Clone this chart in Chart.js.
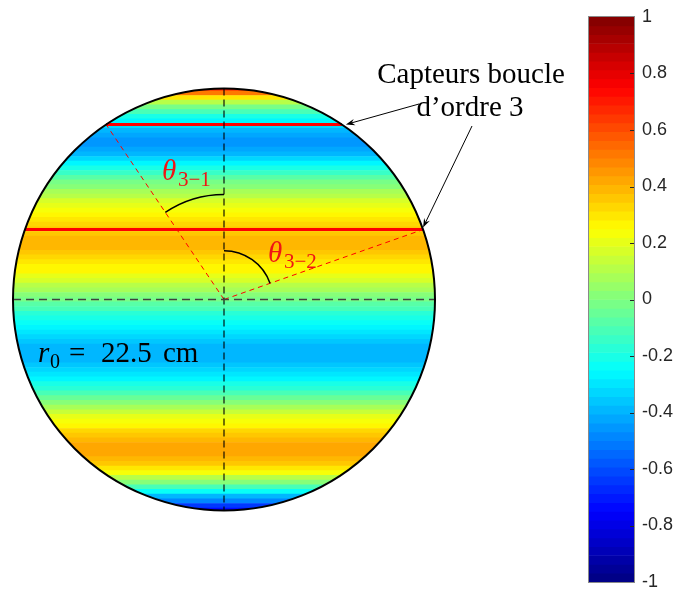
<!DOCTYPE html>
<html>
<head>
<meta charset="utf-8">
<script src="https://cdn.jsdelivr.net/npm/chart.js@4.4.0/dist/chart.umd.min.js"></script>
<style>
  html, body { margin: 0; padding: 0; background: #fff; }
  #wrap { width: 682px; height: 590px; }
</style>
</head>
<body>
<div id="wrap"><canvas id="chart" width="682" height="590"></canvas></div>
<script>
// field profile across the disc, read from top to bottom (height in cm)
const rowY = [
  22.5, 22, 21.5, 21, 20.5, 20, 19.5, 19, 18.5, 18, 17.5, 17, 16.5, 16, 15.5, 15,
  14.5, 14, 13.5, 13, 12.5, 12, 11.5, 11, 10.5, 10, 9.5, 9, 8.5, 8, 7.5, 7,
  6.5, 6, 5.5, 5, 4.5, 4, 3.5, 3, 2.5, 2, 1.5, 1, 0.5, 0,
  -0.5, -1, -1.5, -2, -2.5, -3, -3.5, -4, -4.5, -5, -5.5, -6, -6.5, -7, -7.5, -8,
  -8.5, -9, -9.5, -10, -10.5, -11, -11.5, -12, -12.5, -13, -13.5, -14, -14.5, -15,
  -15.5, -16, -16.5, -17, -17.5, -18, -18.5, -19, -19.5, -20, -20.5, -21, -21.5, -22, -22.5
];
const fieldValues = [
  0.7, 0.5, 0.3, 0.12, -0.02, -0.12, -0.2, -0.27, -0.33, -0.38, -0.42, -0.44, -0.45, -0.43, -0.39, -0.33,
  -0.27, -0.21, -0.15, -0.09, -0.03, 0.03, 0.08, 0.12, 0.16, 0.2, 0.23, 0.26, 0.29, 0.32, 0.35, 0.37,
  0.39, 0.39, 0.38, 0.36, 0.34, 0.31, 0.28, 0.25, 0.21, 0.17, 0.12, 0.08, 0.03, -0.02,
  -0.07, -0.12, -0.16, -0.2, -0.24, -0.28, -0.31, -0.34, -0.36, -0.38, -0.39, -0.39, -0.38, -0.36, -0.33, -0.3,
  -0.26, -0.21, -0.16, -0.1, -0.04, 0.02, 0.08, 0.14, 0.19, 0.24, 0.28, 0.32, 0.36, 0.39,
  0.41, 0.42, 0.42, 0.4, 0.36, 0.3, 0.22, 0.12, 0.0, -0.12, -0.25, -0.38, -0.5, -0.63, -0.75
];
const radius = 22.5;              // r0 in cm
const sensorY = [18.66, 7.46];    // heights of the two order-3 loop sensors (cm)
const colorTicks = [-1, -0.8, -0.6, -0.4, -0.2, 0, 0.2, 0.4, 0.6, 0.8, 1];

// matlab style jet, 64 levels
const nLevels = 64;
function jetColor(v) {
  let i = Math.floor((v + 1) / 2 * nLevels);
  i = Math.max(0, Math.min(nLevels - 1, i));
  const t = (i + 0.5) / nLevels;
  const f = c => Math.round(255 * Math.max(0, Math.min(1, 1.5 - Math.abs(4 * t - c))));
  return 'rgb(' + f(3) + ',' + f(2) + ',' + f(1) + ')';
}
const cbLevels = Array.from({ length: nLevels }, (_, i) => -1 + (i + 0.5) * 2 / nLevels);

const half = sensorY.map(y => Math.sqrt(radius * radius - y * y));
const RED = '#ff0000';
const SERIF = '"Liberation Serif", "Times New Roman", serif';

function lineSet(pts, color, width, dash) {
  return {
    type: 'line', data: pts, borderColor: color, borderWidth: width, borderDash: dash || [],
    pointRadius: 0, fill: false, tension: 0, xAxisID: 'x', yAxisID: 'y', order: 1
  };
}

const discClip = {
  id: 'discClip',
  beforeDatasetDraw(chart, args) {
    if (args.index !== 0) return;
    const { x, y } = chart.scales;
    const cx = x.getPixelForValue(0), cy = y.getPixelForValue(0);
    const r = x.getPixelForValue(radius) - cx;
    const ctx = chart.ctx;
    ctx.save();
    ctx.beginPath();
    ctx.arc(cx, cy, r, 0, Math.PI * 2);
    ctx.clip();
  },
  afterDatasetDraw(chart, args) {
    if (args.index === 0) chart.ctx.restore();
  }
};

function arrow(ctx, x0, y0, x1, y1) {
  const a = Math.atan2(y1 - y0, x1 - x0);
  ctx.beginPath();
  ctx.moveTo(x0, y0);
  ctx.lineTo(x1 - 6 * Math.cos(a), y1 - 6 * Math.sin(a));
  ctx.stroke();
  ctx.beginPath();
  ctx.moveTo(x1, y1);
  ctx.lineTo(x1 - 9 * Math.cos(a) + 3.2 * Math.sin(a), y1 - 9 * Math.sin(a) - 3.2 * Math.cos(a));
  ctx.lineTo(x1 - 6 * Math.cos(a), y1 - 6 * Math.sin(a));
  ctx.lineTo(x1 - 9 * Math.cos(a) - 3.2 * Math.sin(a), y1 - 9 * Math.sin(a) + 3.2 * Math.cos(a));
  ctx.closePath();
  ctx.fill();
}

const decorations = {
  id: 'decorations',
  afterDraw(chart) {
    const ctx = chart.ctx;
    const { x, y, yc } = chart.scales;
    const cx = x.getPixelForValue(0), cy = y.getPixelForValue(0);
    const r = x.getPixelForValue(radius) - cx;
    const k = r / radius;
    ctx.save();

    // disc outline
    ctx.strokeStyle = '#000';
    ctx.lineWidth = 2;
    ctx.beginPath();
    ctx.arc(cx, cy, r, 0, Math.PI * 2);
    ctx.stroke();

    // angle arcs
    const t1 = Math.asin(half[0] / radius);
    const t2 = Math.acos(sensorY[1] / radius);
    ctx.lineWidth = 1.5;
    ctx.beginPath();
    ctx.arc(cx, cy, 11.2 * k, -Math.PI / 2 - t1, -Math.PI / 2);
    ctx.stroke();
    ctx.beginPath();
    ctx.arc(cx, cy, 5.2 * k, -Math.PI / 2, -Math.PI / 2 + t2);
    ctx.stroke();

    // arrows from the annotation
    ctx.lineWidth = 1;
    ctx.fillStyle = '#000';
    arrow(ctx, 419, 104, x.getPixelForValue(half[0]) + 4, y.getPixelForValue(sensorY[0]));
    arrow(ctx, 472, 126, x.getPixelForValue(half[1]), y.getPixelForValue(sensorY[1]) - 2);

    // annotation text
    ctx.fillStyle = '#000';
    ctx.textBaseline = 'alphabetic';
    ctx.textAlign = 'center';
    ctx.font = '29px ' + SERIF;
    ctx.fillText('Capteurs boucle', 471, 83);
    ctx.fillText('d\u2019ordre 3', 470, 116);

    ctx.textAlign = 'left';
    ctx.font = 'italic 29px ' + SERIF;
    ctx.fillText('r', 38, 362);
    ctx.font = '20px ' + SERIF;
    ctx.fillText('0', 50, 368);
    ctx.font = '29px ' + SERIF;
    ctx.fillText('=', 69, 362);
    ctx.fillText('22.5', 101, 362);
    ctx.fillText('cm', 163, 362);

    // theta labels
    ctx.fillStyle = 'rgb(240,20,20)';
    ctx.font = 'italic 29px ' + SERIF;
    ctx.fillText('\u03b8', 162, 180);
    ctx.fillText('\u03b8', 268, 262);
    ctx.font = '21px ' + SERIF;
    ctx.fillText('3\u22121', 178, 186);
    ctx.fillText('3\u22122', 284, 268);

    // colorbar frame and ticks
    const bx0 = x.getPixelForValue(38.92), bx1 = x.getPixelForValue(43.72);
    const by0 = yc.getPixelForValue(1), by1 = yc.getPixelForValue(-1);
    ctx.strokeStyle = '#8a8a8a';
    ctx.lineWidth = 1;
    ctx.strokeRect(Math.round(bx0) - 0.5, Math.round(by0) - 0.5, Math.round(bx1 - bx0) + 1, Math.round(by1 - by0) + 1);
    ctx.strokeStyle = '#262626';
    colorTicks.forEach(v => {
      if (Math.abs(v) === 1) return;
      const py = Math.round(yc.getPixelForValue(v)) + 0.5;
      ctx.beginPath();
      ctx.moveTo(bx1 - 4, py);
      ctx.lineTo(bx1, py);
      ctx.stroke();
    });
    ctx.restore();
  }
};

new Chart(document.getElementById('chart'), {
  type: 'bar',
  data: {
    datasets: [
      {
        type: 'bar', indexAxis: 'y', xAxisID: 'x', yAxisID: 'y', order: 10,
        data: rowY.map(v => ({ y: v, x: [-radius, radius] })),
        backgroundColor: fieldValues.map(jetColor),
        borderWidth: 0, barPercentage: 1, categoryPercentage: 1, grouped: false
      },
      {
        type: 'bar', indexAxis: 'y', xAxisID: 'x', yAxisID: 'yc', order: 10,
        data: cbLevels.map(v => ({ y: v, x: [38.92, 43.72] })),
        backgroundColor: cbLevels.map(jetColor),
        borderWidth: 0, barPercentage: 1, categoryPercentage: 1, grouped: false
      },
      lineSet([{ x: -radius, y: 0 }, { x: radius, y: 0 }], '#404040', 1.3, [8, 5]),
      lineSet([{ x: 0, y: radius }, { x: 0, y: -radius }], '#000', 1.1, [7, 4]),
      lineSet([{ x: 0, y: 0 }, { x: -half[0], y: sensorY[0] }], RED, 1, [5, 4]),
      lineSet([{ x: 0, y: 0 }, { x: half[1], y: sensorY[1] }], RED, 1, [5, 4]),
      lineSet([{ x: -half[0], y: sensorY[0] }, { x: half[0], y: sensorY[0] }], RED, 3),
      lineSet([{ x: -half[1], y: sensorY[1] }, { x: half[1], y: sensorY[1] }], RED, 3)
    ]
  },
  options: {
    responsive: false,
    animation: false,
    devicePixelRatio: 1,
    layout: { padding: { left: 13, top: 17, bottom: 8, right: 0 } },
    plugins: { legend: { display: false }, tooltip: { enabled: false } },
    scales: {
      x: { type: 'linear', min: -22.5, max: 43.72, display: false, offset: false },
      y: { type: 'linear', min: -30.12, max: 30.12, display: false, offset: false },
      yc: {
        type: 'linear', position: 'right', min: -1, max: 1, offset: false,
        grid: { display: false, drawTicks: false }, border: { display: false },
        afterBuildTicks: s => { s.ticks = colorTicks.map(v => ({ value: v })); },
        afterFit: s => { s.width = 48; s.paddingTop = 0; s.paddingBottom = 0; },
        ticks: {
          padding: 8, color: '#262626',
          font: { family: '"Liberation Sans", Arial, sans-serif', size: 18 },
          callback: v => String(Math.round(v * 10) / 10)
        }
      }
    }
  },
  plugins: [discClip, decorations]
});
</script>
</body>
</html>
